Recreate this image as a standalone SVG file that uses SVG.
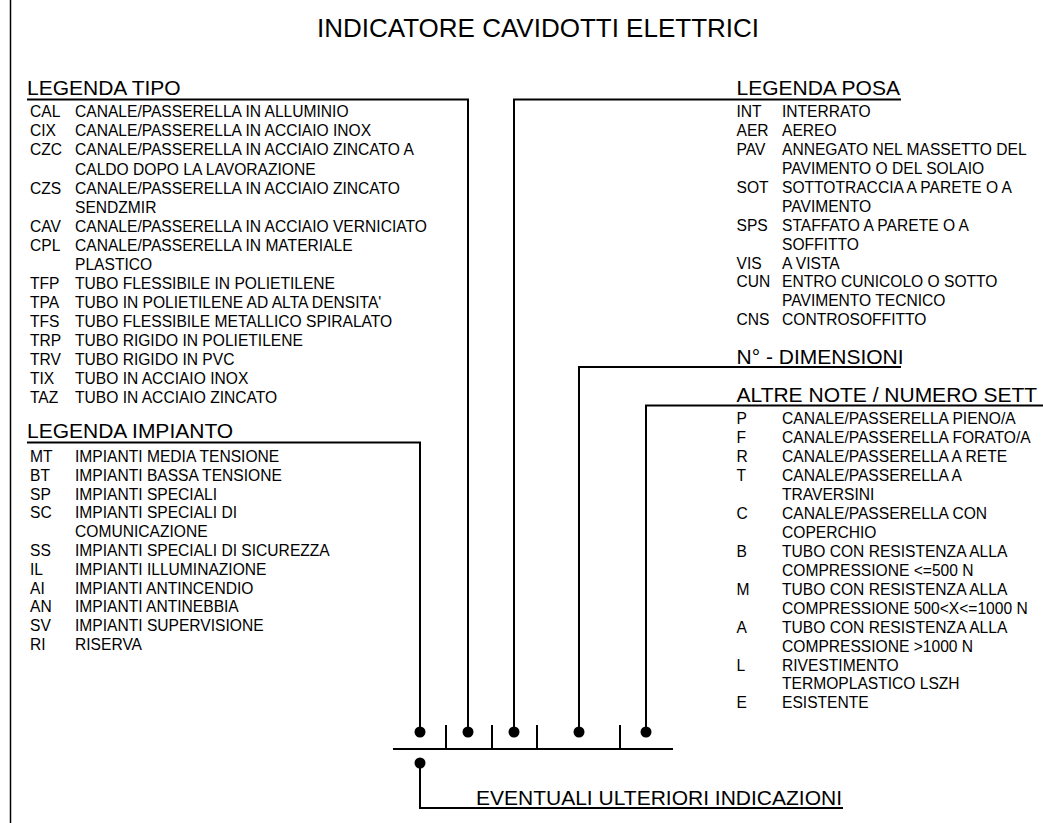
<svg xmlns="http://www.w3.org/2000/svg" width="1043" height="823" viewBox="0 0 1043 823">
<style>
text{font-family:"Liberation Sans",Arial,sans-serif;fill:#000}
.t{font-size:26px}
.h{font-size:21px}
.i{font-size:15.6px}
.ln{stroke:#000;stroke-width:2;fill:none}
.dot{fill:#000}
</style>
<rect width="1043" height="823" fill="#fff"/>
<line x1="10.5" y1="0" x2="10.5" y2="823" stroke="#000" stroke-width="1.5"/>
<g id="title"><text class="t" x="538" y="37" text-anchor="middle">INDICATORE CAVIDOTTI ELETTRICI</text></g>

<g id="legenda-tipo">
<text class="h" x="27" y="95">LEGENDA TIPO</text>
<g class="i">
<text class="i" x="30" y="117.3">CAL</text><text class="i" x="75" y="117.3">CANALE/PASSERELLA IN ALLUMINIO</text>
<text class="i" x="30" y="136.3">CIX</text><text class="i" x="75" y="136.3">CANALE/PASSERELLA IN ACCIAIO INOX</text>
<text class="i" x="30" y="155.4">CZC</text><text class="i" x="75" y="155.4">CANALE/PASSERELLA IN ACCIAIO ZINCATO A</text>
<text class="i" x="75" y="174.5">CALDO DOPO LA LAVORAZIONE</text>
<text class="i" x="30" y="193.5">CZS</text><text class="i" x="75" y="193.5">CANALE/PASSERELLA IN ACCIAIO ZINCATO</text>
<text class="i" x="75" y="212.6">SENDZMIR</text>
<text class="i" x="30" y="231.7">CAV</text><text class="i" x="75" y="231.7">CANALE/PASSERELLA IN ACCIAIO VERNICIATO</text>
<text class="i" x="30" y="250.8">CPL</text><text class="i" x="75" y="250.8">CANALE/PASSERELLA IN MATERIALE</text>
<text class="i" x="75" y="269.8">PLASTICO</text>
<text class="i" x="30" y="288.9">TFP</text><text class="i" x="75" y="288.9">TUBO FLESSIBILE IN POLIETILENE</text>
<text class="i" x="30" y="308">TPA</text><text class="i" x="75" y="308">TUBO IN POLIETILENE AD ALTA DENSITA'</text>
<text class="i" x="30" y="327">TFS</text><text class="i" x="75" y="327">TUBO FLESSIBILE METALLICO SPIRALATO</text>
<text class="i" x="30" y="346.1">TRP</text><text class="i" x="75" y="346.1">TUBO RIGIDO IN POLIETILENE</text>
<text class="i" x="30" y="365.2">TRV</text><text class="i" x="75" y="365.2">TUBO RIGIDO IN PVC</text>
<text class="i" x="30" y="384.2">TIX</text><text class="i" x="75" y="384.2">TUBO IN ACCIAIO INOX</text>
<text class="i" x="30" y="403.3">TAZ</text><text class="i" x="75" y="403.3">TUBO IN ACCIAIO ZINCATO</text>
</g>
</g>

<g id="legenda-impianto">
<text class="h" x="27" y="438">LEGENDA IMPIANTO</text>
<text class="i" x="30" y="462">MT</text><text class="i" x="75" y="462">IMPIANTI MEDIA TENSIONE</text>
<text class="i" x="30" y="480.8">BT</text><text class="i" x="75" y="480.8">IMPIANTI BASSA TENSIONE</text>
<text class="i" x="30" y="499.6">SP</text><text class="i" x="75" y="499.6">IMPIANTI SPECIALI</text>
<text class="i" x="30" y="518.4">SC</text><text class="i" x="75" y="518.4">IMPIANTI SPECIALI DI</text>
<text class="i" x="75" y="537.2">COMUNICAZIONE</text>
<text class="i" x="30" y="556">SS</text><text class="i" x="75" y="556">IMPIANTI SPECIALI DI SICUREZZA</text>
<text class="i" x="30" y="574.8">IL</text><text class="i" x="75" y="574.8">IMPIANTI ILLUMINAZIONE</text>
<text class="i" x="30" y="593.6">AI</text><text class="i" x="75" y="593.6">IMPIANTI ANTINCENDIO</text>
<text class="i" x="30" y="612.4">AN</text><text class="i" x="75" y="612.4">IMPIANTI ANTINEBBIA</text>
<text class="i" x="30" y="631.2">SV</text><text class="i" x="75" y="631.2">IMPIANTI SUPERVISIONE</text>
<text class="i" x="30" y="650">RI</text><text class="i" x="75" y="650">RISERVA</text>
</g>

<g id="legenda-posa">
<text class="h" x="736.5" y="95">LEGENDA POSA</text>
<text class="i" x="736.5" y="117.3">INT</text><text class="i" x="782" y="117.3">INTERRATO</text>
<text class="i" x="736.5" y="136.2">AER</text><text class="i" x="782" y="136.2">AEREO</text>
<text class="i" x="736.5" y="155.1">PAV</text><text class="i" x="782" y="155.1">ANNEGATO NEL MASSETTO DEL</text>
<text class="i" x="782" y="174">PAVIMENTO O DEL SOLAIO</text>
<text class="i" x="736.5" y="192.9">SOT</text><text class="i" x="782" y="192.9">SOTTOTRACCIA A PARETE O A</text>
<text class="i" x="782" y="211.8">PAVIMENTO</text>
<text class="i" x="736.5" y="230.7">SPS</text><text class="i" x="782" y="230.7">STAFFATO A PARETE O A</text>
<text class="i" x="782" y="249.6">SOFFITTO</text>
<text class="i" x="736.5" y="268.5">VIS</text><text class="i" x="782" y="268.5">A VISTA</text>
<text class="i" x="736.5" y="287.4">CUN</text><text class="i" x="782" y="287.4">ENTRO CUNICOLO O SOTTO</text>
<text class="i" x="782" y="306.3">PAVIMENTO TECNICO</text>
<text class="i" x="736.5" y="325.2">CNS</text><text class="i" x="782" y="325.2">CONTROSOFFITTO</text>
</g>

<g id="dimensioni">
<text class="h" x="736.5" y="363.5">N° - DIMENSIONI</text>
</g>

<g id="altre-note">
<text class="h" x="736.5" y="402">ALTRE NOTE / NUMERO SETT</text>
<text class="i" x="736.5" y="424.4">P</text><text class="i" x="782" y="424.4">CANALE/PASSERELLA PIENO/A</text>
<text class="i" x="736.5" y="443.3">F</text><text class="i" x="782" y="443.3">CANALE/PASSERELLA FORATO/A</text>
<text class="i" x="736.5" y="462.2">R</text><text class="i" x="782" y="462.2">CANALE/PASSERELLA A RETE</text>
<text class="i" x="736.5" y="481.2">T</text><text class="i" x="782" y="481.2">CANALE/PASSERELLA A</text>
<text class="i" x="782" y="500.1">TRAVERSINI</text>
<text class="i" x="736.5" y="519">C</text><text class="i" x="782" y="519">CANALE/PASSERELLA CON</text>
<text class="i" x="782" y="538">COPERCHIO</text>
<text class="i" x="736.5" y="556.9">B</text><text class="i" x="782" y="556.9">TUBO CON RESISTENZA ALLA</text>
<text class="i" x="782" y="575.8">COMPRESSIONE &lt;=500 N</text>
<text class="i" x="736.5" y="594.8">M</text><text class="i" x="782" y="594.8">TUBO CON RESISTENZA ALLA</text>
<text class="i" x="782" y="613.7">COMPRESSIONE 500&lt;X&lt;=1000 N</text>
<text class="i" x="736.5" y="632.6">A</text><text class="i" x="782" y="632.6">TUBO CON RESISTENZA ALLA</text>
<text class="i" x="782" y="651.6">COMPRESSIONE &gt;1000 N</text>
<text class="i" x="736.5" y="670.5">L</text><text class="i" x="782" y="670.5">RIVESTIMENTO</text>
<text class="i" x="782" y="689.4">TERMOPLASTICO LSZH</text>
<text class="i" x="736.5" y="708.3">E</text><text class="i" x="782" y="708.3">ESISTENTE</text>
</g>

<g id="code-bar">
<line class="ln" x1="393" y1="749" x2="673" y2="749"/>
<line class="ln" x1="446" y1="725" x2="446" y2="749"/>
<line class="ln" x1="492" y1="725" x2="492" y2="749"/>
<line class="ln" x1="537" y1="725" x2="537" y2="749"/>
<line class="ln" x1="620" y1="725" x2="620" y2="749"/>
</g>

<g id="ulteriori">
<text class="h" x="476" y="805">EVENTUALI ULTERIORI INDICAZIONI</text>
</g>

<g id="connectors">
<polyline class="ln" points="27,442.5 420,442.5 420,732"/>
<polyline class="ln" points="27,99.5 468,99.5 468,732"/>
<polyline class="ln" points="901,99.5 514,99.5 514,732"/>
<polyline class="ln" points="901,367 579,367 579,732"/>
<polyline class="ln" points="1043,405.5 646,405.5 646,732"/>
<polyline class="ln" points="420,763 420,808 843,808"/>
<circle class="dot" cx="420" cy="732" r="5.5"/>
<circle class="dot" cx="468" cy="732" r="5.5"/>
<circle class="dot" cx="514" cy="732" r="5.5"/>
<circle class="dot" cx="579" cy="732" r="5.5"/>
<circle class="dot" cx="646" cy="732" r="5.5"/>
<circle class="dot" cx="420" cy="763" r="5.5"/>
</g>
</svg>
